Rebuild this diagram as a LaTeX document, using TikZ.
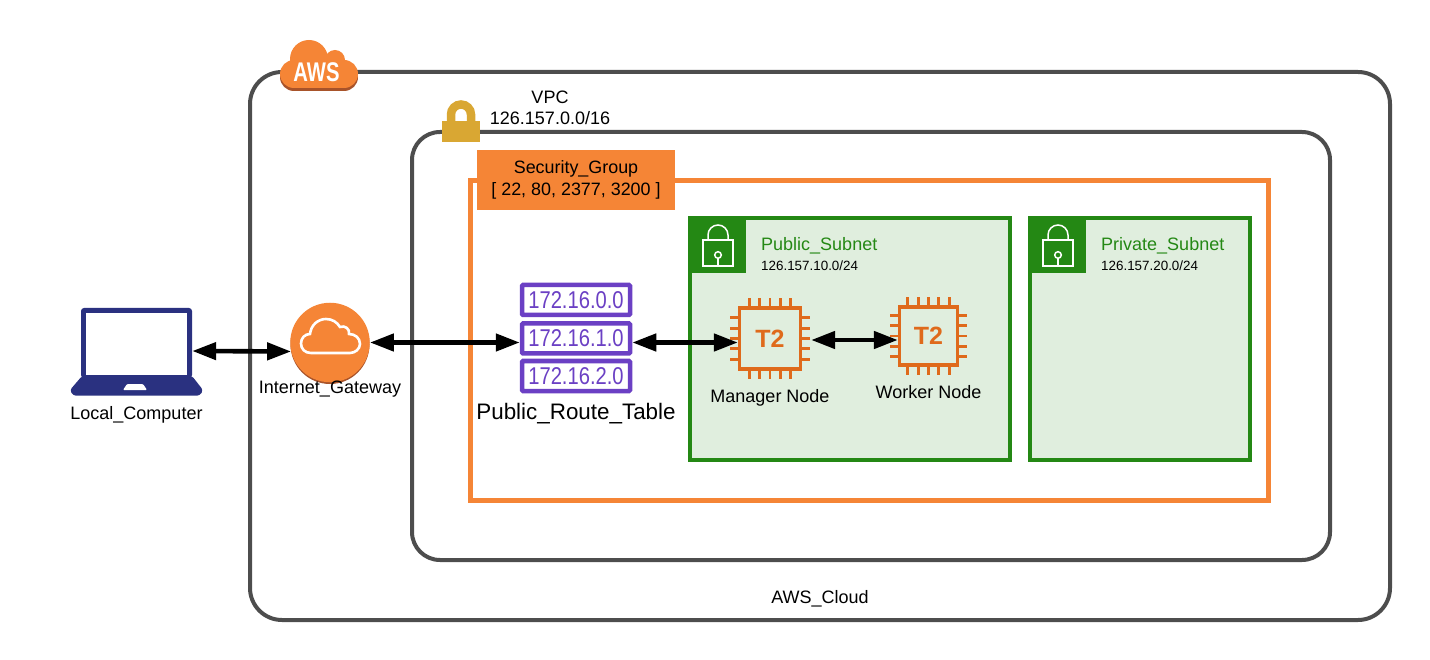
\documentclass[tikz,border=0pt]{standalone}
\usepackage{fontspec}
\setmainfont{Liberation Sans}
\newfontfamily\ipfont[FakeStretch=0.83]{Liberation Sans}
\newfontfamily\logofont[FakeStretch=0.75]{Liberation Sans}
\usetikzlibrary{shapes}
\usetikzlibrary{arrows.meta}
\definecolor{awsgray}{HTML}{4D4D4D}
\definecolor{awsorange}{HTML}{F58536}
\definecolor{awsrim}{HTML}{A8532A}
\definecolor{awsgold}{HTML}{D9A733}
\definecolor{awsgreen}{HTML}{248814}
\definecolor{subnetfill}{HTML}{E0EEDE}
\definecolor{routepurple}{HTML}{6B40C4}
\definecolor{chiporange}{HTML}{DF6A1B}
\definecolor{laptopblue}{HTML}{2A3180}
\newcommand{\labelfont}{\fontsize{18}{21}\selectfont}
\tikzstyle{frame} = [rectangle, rounded corners=32pt, inner sep=0pt, draw=awsgray, line width=4pt]
\tikzstyle{secgroup} = [rectangle, inner sep=0pt, draw=awsorange, line width=4.4pt]
\tikzstyle{subnet} = [rectangle, inner sep=0pt, draw=awsgreen, fill=subnetfill, line width=4pt]
\tikzstyle{subnettag} = [rectangle, inner sep=0pt, minimum width=57pt, minimum height=56pt, fill=awsgreen]
\tikzstyle{subnetname} = [anchor=west, inner sep=0pt, text=awsgreen, font=\labelfont]
\tikzstyle{subnetcidr} = [anchor=west, inner sep=0pt, font=\fontsize{13.4}{16}\selectfont]
\tikzstyle{routebox} = [rectangle, rounded corners=1pt, minimum width=108pt, minimum height=30pt, inner sep=0pt, draw=routepurple, fill=white, line width=4.5pt, text=routepurple, font=\ipfont\fontsize{24.3}{26}\selectfont]
\tikzstyle{chip} = [rectangle, inner sep=0pt, draw=chiporange, line width=3.3pt, text=chiporange, font=\bfseries\fontsize{25}{28}\selectfont]
\tikzstyle{chippin} = [draw=chiporange, line width=2.9pt]
\tikzstyle{caption} = [inner sep=0pt, text height=.75em, text depth=.25em, font=\labelfont]
\tikzstyle{arrow} = [line width=4.6pt, <->, >={Triangle[length=24pt,width=17pt]}]
\newcommand{\ChipPins}[1]{
    \foreach \k in {-2,-1,0,1,2}{
        \draw[chippin] ([xshift=\k*10.4pt]#1.north) -- ++(0,-8);
        \draw[chippin] ([xshift=\k*10.4pt]#1.south) -- ++(0,8);
        \draw[chippin] ([yshift=\k*10.4pt]#1.west) -- ++(-8,0);
        \draw[chippin] ([yshift=\k*10.4pt]#1.east) -- ++(8,0);
    }
}
\tikzset{subnetlock/.pic={
    \draw[white, line width=1.5pt] (-15,-10) rectangle (15,16);
    \draw[white, line width=1.5pt] (-10,-10) -- (-10,-15) arc (180:360:10) -- (10,-10);
    \draw[white, line width=1.5pt] (0,5) circle (3.3);
    \draw[white, line width=1.5pt] (0,8.3) -- (0,15);
}}

\begin{document}
\begin{tikzpicture}[x=1pt, y=-1pt, node distance=50pt]
    \useasboundingbox (0,0) rectangle (1430,660);

    % nested boxes
    \node(AwsCloud)[frame, minimum width=1140pt, minimum height=548pt] at (820,346){};
    \node(Vpc)[frame, rounded corners=28pt, minimum width=918pt, minimum height=428pt] at (871,346){};
    \node(SecurityGroup)[secgroup, minimum width=798pt, minimum height=320pt] at (869.5,340.5){};
    \node(SecurityTag)[rectangle, inner sep=0pt, minimum width=198pt, minimum height=60pt, fill=awsorange, align=center, font=\fontsize{17.9}{22}\selectfont] at (576,180){Security\_Group\\{}[ 22, 80, 2377, 3200 ]};
    \node(AwsCaption)[caption] at (820,600.5){AWS\_Cloud};

    % AWS logo
    \fill[awsrim, rounded corners=14pt] (280,63) rectangle (358,91);
    \fill[awsorange] (309,59) circle (19);
    \fill[awsorange] (335,60) circle (10);
    \fill[awsorange, rounded corners=14pt] (280,60) rectangle (358,88);
    \node(AwsLogo)[inner sep=0pt, text=white, font=\logofont\bfseries\fontsize{27}{30}\selectfont] at (316.5,72.5){AWS};

    % VPC lock and text
    \draw[awsgold, line width=8.5pt] (451,122) -- (451,114.5) arc (180:360:10) -- (471,122);
    \fill[awsgold] (442.3,120.7) rectangle (480,141.7);
    \node(VpcText)[inner sep=0pt, align=center, font=\labelfont] at (550,108){VPC\\126.157.0.0/16};

    % subnets
    \node(PublicSubnet)[subnet, minimum width=320pt, minimum height=242pt] at (850,339){};
    \node(PublicTag)[subnettag] at (717.5,245){};
    \pic at (718,250) {subnetlock};
    \node(PublicName)[subnetname] at (761,246){Public\_Subnet};
    \node(PublicCidr)[subnetcidr] at (761,265.5){126.157.10.0/24};

    \node(PrivateSubnet)[subnet, minimum width=220pt, minimum height=242pt] at (1140,339){};
    \node(PrivateTag)[subnettag] at (1057.5,245){};
    \pic at (1058,250) {subnetlock};
    \node(PrivateName)[subnetname] at (1101,246){Private\_Subnet};
    \node(PrivateCidr)[subnetcidr] at (1101,265.5){126.157.20.0/24};

    % laptop
    \node(Laptop)[minimum width=111pt, minimum height=86pt, inner sep=0pt] at (136.5,351){};
    \fill[laptopblue, rounded corners=3pt] (81,378) -- (81,308) -- (192,308) -- (192,378) -- cycle;
    \fill[white] (86,313) rectangle (187,375);
    \fill[laptopblue, rounded corners=2.5pt] (82,376) -- (192,376) -- (203,390) -- (200,395.5) -- (73,395.5) -- (70,390) -- cycle;
    \fill[white, rounded corners=1pt] (123,390) -- (127,384) -- (143,384) -- (147,390) -- cycle;
    \node(LaptopCaption)[caption, below of=Laptop, node distance=66pt]{Local\_Computer};

    % gateway
    \fill[awsrim] (330,344.5) circle (39.5);
    \node(Gateway)[circle, minimum size=79.5pt, inner sep=0pt, fill=awsorange] at (330,342.5){};
    \draw[white, line width=2.6pt] (311,353) .. controls (305,353) and (301,349) .. (301,343.5) .. controls (301,338) and (305,334) .. (310,334) .. controls (311,325) and (318,319) .. (326,319) .. controls (332,319) and (337,322) .. (340,327) .. controls (345,325) and (350,329) .. (349,334) .. controls (355,334) and (360,338) .. (360,344) .. controls (360,349) and (355,353) .. (350,353) -- cycle;
    \node(GatewayCaption)[caption, below of=Gateway, node distance=48.5pt]{Internet\_Gateway};

    % route table
    \node(RouteA)[routebox] at (576,300){172.16.0.0};
    \node(RouteB)[routebox] at (576,338.5){172.16.1.0};
    \node(RouteC)[routebox] at (576,376){172.16.2.0};
    \node(RouteCaption)[caption, below of=RouteC, node distance=41pt, font=\fontsize{22.4}{26}\selectfont]{Public\_Route\_Table};

    % nodes in public subnet
    \node(Manager)[chip, minimum size=61pt] at (770,338.5){T2};
    \ChipPins{Manager}
    \node(ManagerCaption)[caption, below of=Manager, node distance=61.5pt]{Manager Node};
    \node(Worker)[chip, minimum size=58pt] at (928.5,336){T2};
    \ChipPins{Worker}
    \node(WorkerCaption)[caption, below of=Worker, node distance=60pt]{Worker Node};

    % connections
    \draw[arrow] (Laptop.east) -- (Gateway.193);
    \draw[arrow] (Gateway.east) -- (Gateway.east -| RouteB.west);
    \draw[arrow] (RouteB.east |- Gateway.east) -- (Manager.west |- Gateway.east);
    \coordinate (ManagerPort) at ([shift={(9,1.5)}]Manager.east);
    \draw[arrow] (ManagerPort) -- (ManagerPort -| Worker.west);

    \end{tikzpicture}
\end{document}
